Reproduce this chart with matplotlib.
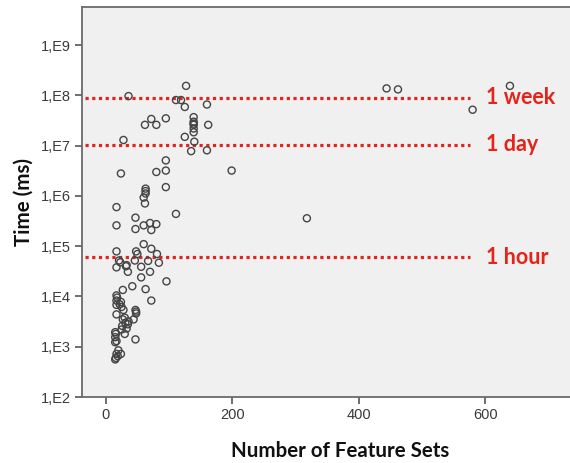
import matplotlib
matplotlib.use("Agg")
import matplotlib.pyplot as plt
from matplotlib.ticker import FixedLocator, NullLocator

# ---- data ----
feature_sets = [
    36, 127, 111, 119, 125, 160, 62, 72, 80, 95,
    139, 139, 139, 139, 139, 139, 162, 28, 125, 140,
    135, 160, 95, 80, 95, 24, 95, 63, 63, 63,
    60, 62, 17, 199, 318, 444, 462, 639, 580, 111,
    47, 17, 47, 60, 70, 80, 72, 60, 72, 17,
    48, 50, 81, 21, 33, 46, 67, 84, 17, 32,
    35, 56, 70, 56, 96, 42, 63, 27, 17, 17,
    17, 24, 25, 28, 72, 47, 48, 44, 17, 27,
    31, 35, 33, 25, 15, 15, 15, 30, 47, 20,
    17, 16, 15, 24, 16, 17, 18, 22, 30, 36,
    26, 48, 19, 23,
]
time_ms = [
    9.7e7, 1.55e8, 8.1e7, 8.1e7, 5.9e7, 6.6e7, 2.6e7, 3.4e7, 2.6e7, 3.5e7,
    3.7e7, 3.0e7, 2.75e7, 2.6e7, 2.2e7, 1.85e7, 2.6e7, 1.3e7, 1.5e7, 1.2e7,
    7.8e6, 8.1e6, 5.1e6, 3.0e6, 3.2e6, 2.8e6, 1.5e6, 1.4e6, 1.25e6, 1.12e6,
    9.3e5, 7.1e5, 6.0e5, 3.2e6, 3.6e5, 1.38e8, 1.32e8, 1.55e8, 5.2e7, 4.4e5,
    3.7e5, 2.6e5, 2.2e5, 2.6e5, 2.9e5, 2.75e5, 2.1e5, 1.1e5, 8.9e4, 7.9e4,
    7.9e4, 7.0e4, 7.0e4, 5.2e4, 4.2e4, 5.2e4, 5.1e4, 4.7e4, 3.8e4, 4.0e4,
    3.1e4, 3.9e4, 3.1e4, 2.4e4, 2.0e4, 1.6e4, 1.4e4, 1.35e4, 1.05e4, 8.3e3,
    6.8e3, 7.8e3, 6.2e3, 5.4e3, 8.3e3, 5.4e3, 4.6e3, 3.5e3, 4.4e3, 3.5e3,
    3.0e3, 2.8e3, 2.3e3, 2.2e3, 1.95e3, 1.55e3, 1.23e3, 1.8e3, 1.4e3, 850,
    720, 600, 560, 720, 1.8e3, 1.3e3, 9.5e3, 7.0e3, 3.8e3, 3.2e3,
    2.6e3, 5.0e3, 6.5e2, 4.8e4,
]

ref_labels = ["1 week", "1 day", "1 hour"]
ref_values = [8.9e7, 1.05e7, 6.0e4]

y_tick_values = [1e2, 1e3, 1e4, 1e5, 1e6, 1e7, 1e8, 1e9]
y_tick_labels = ["1,E2", "1,E3", "1,E4", "1,E5", "1,E6", "1,E7", "1,E8", "1,E9"]
x_tick_values = [0, 200, 400, 600]

# ---- figure ----
fig = plt.figure(figsize=(5.7, 4.63), dpi=100)
ax = fig.add_axes([0.1439, 0.1425, 0.865, 0.8424])
ax.set_facecolor("#f0f0f0")

ax.set_yscale("log")
ax.set_xlim(-37.5, 742)
ax.set_ylim(1e2, 5.75e9)

ax.scatter(feature_sets, time_ms, s=26, facecolors="none",
           edgecolors="#454545", linewidths=1.0, zorder=3)

red = "#e3241b"
for lab, val in zip(ref_labels, ref_values):
    ax.hlines(val, -33, 576, colors=red, linewidth=2.3,
              linestyles=(0, (1, 1.1)), zorder=2)
    ax.text(601, val, lab, color=red, fontsize=15.5, fontweight="bold",
            family="Lato", va="center", ha="left", zorder=4)

ax.yaxis.set_major_locator(FixedLocator(y_tick_values))
ax.yaxis.set_minor_locator(NullLocator())
ax.set_yticklabels(y_tick_labels)
ax.set_xticks(x_tick_values)

for lbl in ax.get_xticklabels() + ax.get_yticklabels():
    lbl.set_family("Liberation Sans")
    lbl.set_fontsize(10.5)
    lbl.set_color("#3a3a3a")

ax.tick_params(axis="both", direction="out", length=5, width=1.2,
               color="#555555", pad=3)

for side in ["left", "bottom", "top"]:
    ax.spines[side].set_color("#6a6a6a")
    ax.spines[side].set_linewidth(1.3)
ax.spines["right"].set_visible(False)

ax.set_xlabel("Number of Feature Sets", family="Lato", fontweight="bold",
              fontsize=14.8, color="#111111")
ax.xaxis.set_label_coords(0.523, -0.112)
ax.set_ylabel("Time (ms)", family="Lato", fontweight="bold",
              fontsize=14.8, labelpad=5, color="#111111")

fig.savefig("out.png", dpi=100)
